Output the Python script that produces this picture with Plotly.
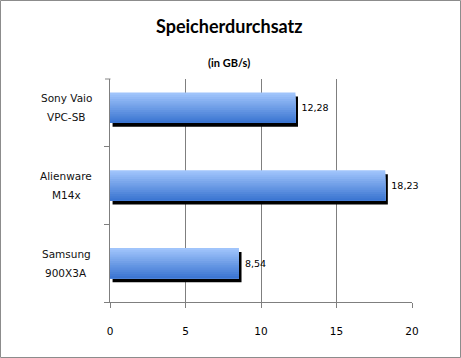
import plotly.graph_objects as go

# ---- data ----
categories = ["Samsung<br>900X3A", "Alienware<br>M14x", "Sony Vaio<br>VPC-SB"]
values = [8.54, 18.23, 12.28]
x_ticks = [0, 5, 10, 15, 20]
title = "Speicherdurchsatz"
subtitle = "(in GB/s)"

# ---- layout geometry ----
W, H = 461, 358
ML, MR, MT, MB = 110, 49, 79, 56
PW, PH = W - ML - MR, H - MT - MB

def px_x(px):
    return (px - ML) / PW

def px_y(py):
    return 1 - (py - MT) / PH

bar_w = 0.39
shadow_dy = 0.05
shadow_dx = 0.17
n_strips = 14
top_rgb = (160, 196, 251)
bot_rgb = (60, 118, 210)

fig = go.Figure()

# shadow
fig.add_trace(go.Bar(
    y=categories, x=values, base=shadow_dx, orientation="h",
    width=bar_w, offset=-bar_w / 2 - shadow_dy,
    marker=dict(color="black", line=dict(width=0)),
    hoverinfo="skip", showlegend=False,
))

# gradient: nested bars anchored at the bar bottom
sw = bar_w / n_strips
for i in range(n_strips):
    t = i / (n_strips - 1)
    c = tuple(round(top_rgb[k] + (bot_rgb[k] - top_rgb[k]) * t) for k in range(3))
    fig.add_trace(go.Bar(
        y=categories, x=values, orientation="h",
        width=bar_w - i * sw, offset=-bar_w / 2,
        marker=dict(color="rgb(%d,%d,%d)" % c, line=dict(width=0)),
        hoverinfo="skip", showlegend=False,
    ))

# value labels
fig.add_trace(go.Bar(
    y=categories, x=values, orientation="h",
    width=bar_w, offset=-bar_w / 2,
    marker=dict(color="rgba(0,0,0,0)", line=dict(width=0)),
    text=[" " + ("%.2f" % v).replace(".", ",") for v in values],
    textposition="outside", cliponaxis=False,
    textfont=dict(family="DejaVu Sans", size=9.5, color="black"),
    hoverinfo="skip", showlegend=False,
))

annotations = [
    dict(text="<b>%s</b>" % title, x=px_x(229), y=px_y(26), xref="paper", yref="paper",
         showarrow=False, font=dict(family="Lato", size=18, color="black"),
         xanchor="center", yanchor="middle"),
    dict(text="<b>%s</b>" % subtitle, x=px_x(229), y=px_y(62), xref="paper", yref="paper",
         showarrow=False, font=dict(family="Lato", size=11, color="black"),
         xanchor="center", yanchor="middle"),
]
for cat in categories:
    lines = cat.split("<br>")
    for j, ln in enumerate(lines):
        annotations.append(dict(
            text=ln, x=px_x(66), xref="paper", y=cat, yref="y",
            yshift=(len(lines) - 1) * 9.5 - j * 19,
            showarrow=False, xanchor="center", yanchor="middle",
            font=dict(family="DejaVu Sans", size=10.5, color="#111111"),
        ))

fig.update_layout(
    width=W, height=H,
    margin=dict(l=ML, r=MR, t=MT, b=MB),
    barmode="overlay",
    paper_bgcolor="white", plot_bgcolor="white",
    showlegend=False,
    annotations=annotations,
    shapes=[
        dict(type="rect", xref="paper", yref="paper",
             x0=px_x(0.5), x1=px_x(W - 0.5), y0=px_y(H - 0.5), y1=px_y(0.5),
             line=dict(color="#8c8c8c", width=1)),
        dict(type="line", xref="paper", yref="paper",
             x0=px_x(105), x1=px_x(110.5), y0=1, y1=1,
             line=dict(color="#868686", width=1)),
    ],
    xaxis=dict(
        range=[0, 20], tickvals=x_ticks, ticktext=[str(v) for v in x_ticks],
        showgrid=True, gridcolor="#7f7f7f", gridwidth=1,
        showline=True, linecolor="#7f7f7f", linewidth=1,
        ticks="outside", ticklen=5, tickcolor="#7f7f7f",
        ticklabelstandoff=14,
        tickfont=dict(family="DejaVu Sans", size=10.5, color="black"),
        zeroline=False, fixedrange=True,
    ),
    yaxis=dict(
        type="category", categoryorder="array", categoryarray=categories,
        range=[-0.5, 2.37],
        showticklabels=False,
        ticks="outside", ticklen=5, tickcolor="#7f7f7f", tickson="boundaries",
        showline=True, linecolor="#7f7f7f", linewidth=1,
        showgrid=False, zeroline=False, fixedrange=True,
    ),
)

fig.write_html("out.html", config={"displayModeBar": False},
               post_script="document.body.style.margin='0px';document.body.style.overflow='hidden';")
